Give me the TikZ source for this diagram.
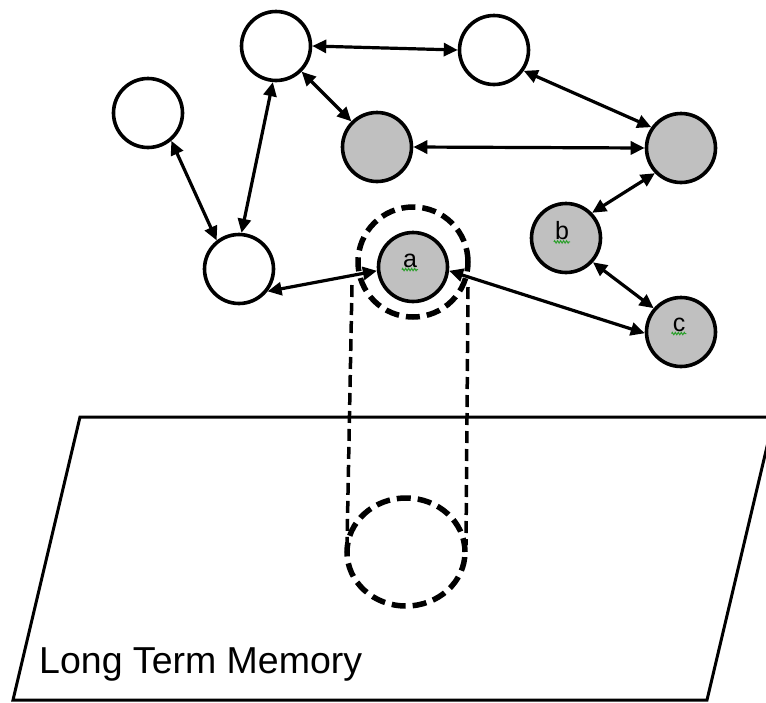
\documentclass[tikz,border=0pt]{standalone}
\usepackage{fontspec}
\setmainfont{Liberation Sans}
\usetikzlibrary{arrows.meta,decorations.pathmorphing,shapes.geometric}
\definecolor{nodegray}{HTML}{C0C0C0}
\definecolor{squiggreen}{HTML}{2CA02C}
\begin{document}
\begin{tikzpicture}[x=1pt,y=-1pt,
  wnode/.style={circle,draw=black,line width=3.6pt,minimum size=69pt,inner sep=0pt,fill=white},
  gnode/.style={wnode,fill=nodegray},
  link/.style={line width=3.2pt,{Triangle[length=14pt,width=13pt]}-{Triangle[length=14pt,width=13pt]}},
  bigdash/.style={line width=5.5pt,dash pattern=on 14pt off 7pt},
  thindash/.style={line width=3.5pt,dash pattern=on 12pt off 6pt},
  letter/.style={inner sep=0pt,font=\fontsize{25}{27}\selectfont},
  squig/.style={squiggreen,line width=1pt,decorate,decoration={zigzag,segment length=3pt,amplitude=1.2pt}},
  frame/.style={line width=3pt}]
\useasboundingbox (0,0) rectangle (766,702);
% long term memory plane
\coordinate (p1) at (80,417);
\coordinate (p2) at (774,417);
\coordinate (p3) at (707,700);
\coordinate (p4) at (13,700);
\draw[frame] (p1) -- (p2) -- (p3) -- (p4) -- cycle;
\node[anchor=base west,inner sep=0pt,font=\fontsize{37.5}{40}\selectfont] (ltm) at (39,673) {Long Term Memory};
% dashed cylinder
\node[circle,bigdash,draw,minimum size=110pt,inner sep=0pt] (ring) at (413,262) {};
\node[ellipse,bigdash,draw,minimum width=118pt,minimum height=108pt,inner sep=0pt] (ghost) at (406,552) {};
\coordinate (lt) at (352,285);
\coordinate (lb) at (347,545);
\coordinate (rt) at (468,287);
\coordinate (rb) at (466,545);
\draw[thindash] (lt) -- (lb);
\draw[thindash] (rt) -- (rb);
% nodes
\node[wnode] (n1) at (276,46) {};
\node[wnode] (n2) at (148,113) {};
\node[gnode] (n3) at (377,147) {};
\node[wnode] (n4) at (239,269) {};
\node[gnode] (a) at (413,267) {};
\node[wnode] (n5) at (494,50) {};
\node[gnode] (n6) at (681,148) {};
\node[gnode] (b) at (566,238) {};
\node[gnode] (c) at (681,332) {};
% letters
\node[letter] (la) at (410,261) {a};
\node[letter] (lbl) at (562,231) {b};
\node[letter] (lc) at (679,325) {c};
\draw[squig] ([xshift=-1pt,yshift=-1.5pt]la.south west) -- ([xshift=1pt,yshift=-1.5pt]la.south east);
\draw[squig] ([xshift=-1pt,yshift=-1.5pt]lbl.south west) -- ([xshift=1pt,yshift=-1.5pt]lbl.south east);
\draw[squig] ([xshift=-1pt,yshift=-1.5pt]lc.south west) -- ([xshift=1pt,yshift=-1.5pt]lc.south east);
% links
\draw[link] (n1.0) -- (n5.180);
\draw[link] (n1.-45) -- (n3.135);
\draw[link] (n1.-95) -- (n4.86);
\draw[link] (n2.-50) -- (n4.128);
\draw[link] (n4.-38) -- (a.186);
\draw[link] (n3.0) -- (n6.180);
\draw[link] (n5.-35) -- (n6.145);
\draw[link] (n6.-136) -- (b.44);
\draw[link] (b.-42) -- (c.139);
\draw[link] (c.182) -- (a.-6);
\end{tikzpicture}
\end{document}
